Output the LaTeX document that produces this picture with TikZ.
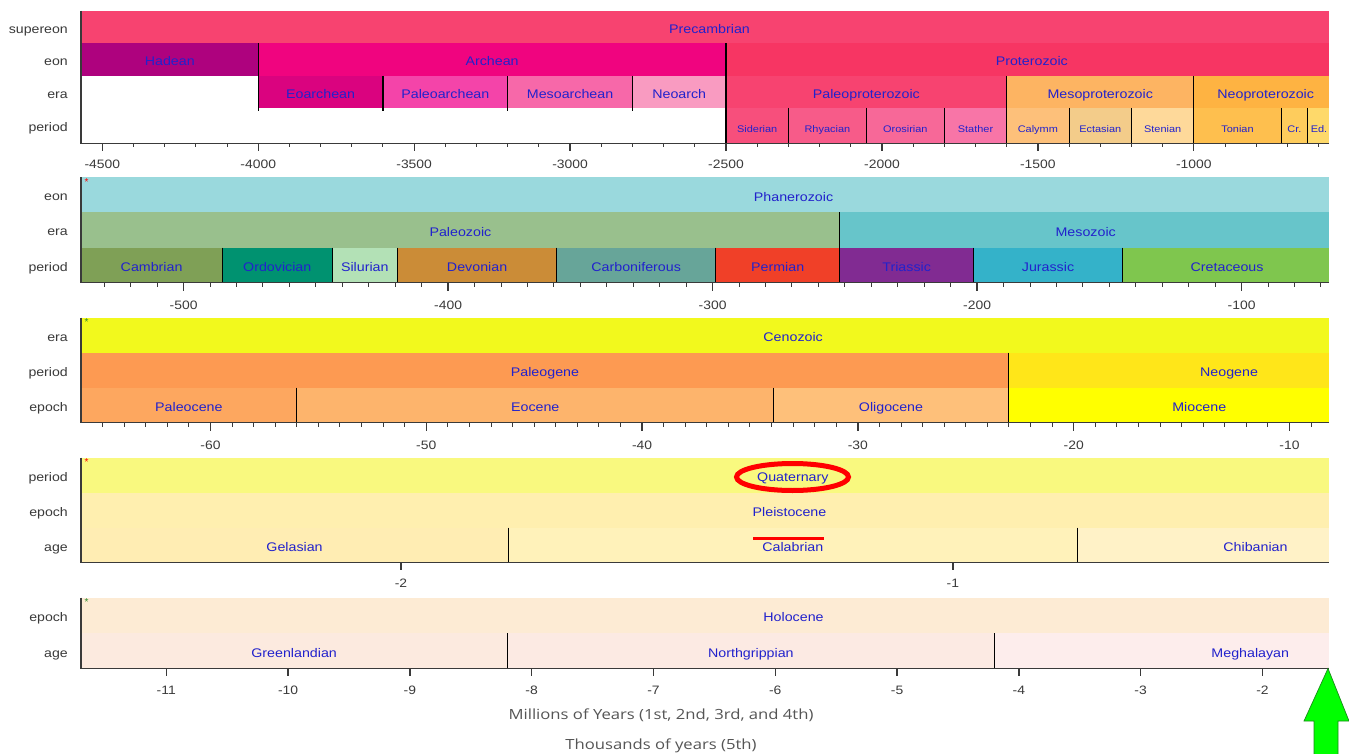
\documentclass[tikz,border=0pt]{standalone}
\usepackage{fontspec}
\setmainfont{Liberation Sans}
\newfontfamily\labfont[FakeStretch=1.14]{Liberation Sans}
\newfontfamily\titfont[FakeStretch=1.19]{Open Sans}
\definecolor{labblue}{HTML}{2222CC}
\definecolor{rowgray}{HTML}{3A3A3A}
\definecolor{axisgray}{HTML}{3A3A3A}
\definecolor{titgray}{HTML}{555555}
\definecolor{arrowgreen}{HTML}{00FF00}
\definecolor{arrowedge}{HTML}{1A8A1A}
\definecolor{astgreen}{HTML}{2E8B2E}
\definecolor{cPrecambrian}{HTML}{F74370}
\definecolor{cHadean}{HTML}{AE027E}
\definecolor{cArchean}{HTML}{F0047F}
\definecolor{cProterozoic}{HTML}{F73563}
\definecolor{cEoarchean}{HTML}{DA037F}
\definecolor{cPaleoarchean}{HTML}{F444A9}
\definecolor{cMesoarchean}{HTML}{F768A9}
\definecolor{cNeoarchean}{HTML}{F99BC1}
\definecolor{cPaleoproterozoic}{HTML}{F74370}
\definecolor{cMesoproterozoic}{HTML}{FDB462}
\definecolor{cNeoproterozoic}{HTML}{FEB342}
\definecolor{cSiderian}{HTML}{F74F7C}
\definecolor{cRhyacian}{HTML}{F75B89}
\definecolor{cOrosirian}{HTML}{F76898}
\definecolor{cStatherian}{HTML}{F875A7}
\definecolor{cCalymmian}{HTML}{FDC07A}
\definecolor{cEctasian}{HTML}{F3CC8A}
\definecolor{cStenian}{HTML}{FED99A}
\definecolor{cTonian}{HTML}{FEBF4E}
\definecolor{cCryogenian}{HTML}{FECC5C}
\definecolor{cEdiacaran}{HTML}{FED96A}
\definecolor{cPhanerozoic}{HTML}{9AD9DD}
\definecolor{cPaleozoic}{HTML}{99C08D}
\definecolor{cMesozoic}{HTML}{67C5CA}
\definecolor{cCambrian}{HTML}{7FA056}
\definecolor{cOrdovician}{HTML}{009270}
\definecolor{cSilurian}{HTML}{B3E1B6}
\definecolor{cDevonian}{HTML}{CB8C37}
\definecolor{cCarboniferous}{HTML}{67A599}
\definecolor{cPermian}{HTML}{F04028}
\definecolor{cTriassic}{HTML}{812B92}
\definecolor{cJurassic}{HTML}{34B2C9}
\definecolor{cCretaceous}{HTML}{7FC64E}
\definecolor{cCenozoic}{HTML}{F2F91D}
\definecolor{cPaleogene}{HTML}{FD9A52}
\definecolor{cNeogene}{HTML}{FFE619}
\definecolor{cPaleocene}{HTML}{FDA75F}
\definecolor{cEocene}{HTML}{FDB46C}
\definecolor{cOligocene}{HTML}{FEC07A}
\definecolor{cMiocene}{HTML}{FFFF00}
\definecolor{cQuaternary}{HTML}{F9F97F}
\definecolor{cPleistocene}{HTML}{FFEFAF}
\definecolor{cGelasian}{HTML}{FFEDB3}
\definecolor{cCalabrian}{HTML}{FFF2BA}
\definecolor{cChibanian}{HTML}{FFF2C7}
\definecolor{cHolocene}{HTML}{FDEBD4}
\definecolor{cGreenlandian}{HTML}{FCEADF}
\definecolor{cNorthgrippian}{HTML}{FCEAE3}
\definecolor{cMeghalayan}{HTML}{FDEDEC}
\newcommand\gbar[5]{\fill[#5] ({#1},#3) rectangle ({#2},#4);}
\newcommand\gsep[3]{\draw[sepline] ({#1},#2) -- ({#1},#3);}
\begin{document}
\begin{tikzpicture}[x=1pt,y=-1pt,
 declare function={p1(\x)=102.3+(\x+4500)*0.31186; p2(\x)=81+(\x+538.8)*2.645; p3(\x)=81+(\x+66)*21.58; p4(\x)=81+(\x+2.58)*551.8; p5(\x)=81+(\x+11.7)*121.8;},
 lab/.style={font=\labfont\fontsize{12.5}{13}\selectfont, text=labblue, inner sep=0pt, anchor=base},
 slab/.style={font=\labfont\fontsize{9.6}{10}\selectfont, text=labblue, inner sep=0pt, anchor=base},
 rowlab/.style={font=\labfont\fontsize{12.4}{13}\selectfont, text=rowgray, inner sep=0pt, anchor=base east},
 ticklab/.style={font=\labfont\fontsize{12.2}{13}\selectfont, text=axisgray, inner sep=0pt, anchor=base},
 titlab/.style={font=\titfont\fontsize{14}{15}\selectfont, text=titgray, inner sep=0pt, anchor=base},
 ast/.style={font=\fontsize{10}{10}\selectfont, inner sep=0pt, anchor=north},
 sepline/.style={black, line width=1.1pt},
 axisline/.style={axisgray, line width=1.6pt},
 minortick/.style={axisgray, line width=1pt},
 majortick/.style={axisgray, line width=1.3pt}
]
\useasboundingbox (0,0) rectangle (1349,754);
\fill[white] (0,0) rectangle (1349,754);

% ---------------- Panel 1 ----------------
\begin{scope}
\clip (81,11) rectangle (1329,143.5);
\gbar{81}{1329}{11}{43.5}{cPrecambrian}
\gbar{81}{p1(-4000)}{43.5}{76}{cHadean}
\gbar{p1(-4000)}{p1(-2500)}{43.5}{76}{cArchean}
\gbar{p1(-2500)}{1329}{43.5}{76}{cProterozoic}
\gbar{p1(-4000)}{p1(-3600)}{76}{108}{cEoarchean}
\gbar{p1(-3600)}{p1(-3200)}{76}{108}{cPaleoarchean}
\gbar{p1(-3200)}{p1(-2800)}{76}{108}{cMesoarchean}
\gbar{p1(-2800)}{p1(-2500)}{76}{108}{cNeoarchean}
\gbar{p1(-2500)}{p1(-1600)}{76}{108}{cPaleoproterozoic}
\gbar{p1(-1600)}{p1(-1000)}{76}{108}{cMesoproterozoic}
\gbar{p1(-1000)}{1329}{76}{108}{cNeoproterozoic}
\gbar{p1(-2500)}{p1(-2300)}{108}{143.5}{cSiderian}
\gbar{p1(-2300)}{p1(-2050)}{108}{143.5}{cRhyacian}
\gbar{p1(-2050)}{p1(-1800)}{108}{143.5}{cOrosirian}
\gbar{p1(-1800)}{p1(-1600)}{108}{143.5}{cStatherian}
\gbar{p1(-1600)}{p1(-1400)}{108}{143.5}{cCalymmian}
\gbar{p1(-1400)}{p1(-1200)}{108}{143.5}{cEctasian}
\gbar{p1(-1200)}{p1(-1000)}{108}{143.5}{cStenian}
\gbar{p1(-1000)}{p1(-720)}{108}{143.5}{cTonian}
\gbar{p1(-720)}{p1(-635)}{108}{143.5}{cCryogenian}
\gbar{p1(-635)}{1329}{108}{143.5}{cEdiacaran}
\end{scope}
\gsep{p1(-4000)}{43.5}{111}
\gsep{p1(-3600)}{76}{111}
\gsep{p1(-3200)}{76}{111}
\gsep{p1(-2800)}{76}{111}
\gsep{p1(-2500)}{43.5}{143.5}
\gsep{p1(-1600)}{76}{143.5}
\gsep{p1(-1000)}{76}{143.5}
\foreach \v in {-2300,-2050,-1800,-1400,-1200,-720,-635} {\gsep{p1(\v)}{108}{143.5}}
\foreach \v in {-4500,-4400,...,-600} {\draw[minortick] ({p1(\v)},143.5) -- ({p1(\v)},147);}
\foreach \v [count=\i] in {-4500,-4000,...,-1000} {\draw[majortick] ({p1(\v)},143.5) -- ({p1(\v)},151); \node[ticklab] (ta\i) at ({p1(\v)},168.5) {\v};}
\draw[axisline] (81,11) -- (81,143.5) -- (1329,143.5);
\node[rowlab] (r1a) at (68,33.3) {supereon};
\node[rowlab] (r1b) at (68,65.8) {eon};
\node[rowlab] (r1c) at (68,98.3) {era};
\node[rowlab] (r1d) at (68,131.8) {period};
\node[lab] (precambrian) at ({p1(-2553)},33.3) {Precambrian};
\node[lab] (hadean) at ({p1(-4283.5)},65.8) {Hadean};
\node[lab] (archean) at ({p1(-3250)},65.8) {Archean};
\node[lab] (proterozoic) at ({p1(-1519.4)},65.8) {Proterozoic};
\node[lab] (eoarchean) at ({p1(-3800)},98.5) {Eoarchean};
\node[lab] (paleoarchean) at ({p1(-3400)},98.5) {Paleoarchean};
\node[lab] (mesoarchean) at ({p1(-3000)},98.5) {Mesoarchean};
\node[lab] (neoarch) at ({p1(-2650)},98.5) {Neoarch};
\node[lab] (paleoproterozoic) at ({p1(-2050)},98.5) {Paleoproterozoic};
\node[lab] (mesoproterozoic) at ({p1(-1300)},98.5) {Mesoproterozoic};
\node[lab] (neoproterozoic) at ({p1(-769.4)},98.5) {Neoproterozoic};
\node[slab] (siderian) at ({p1(-2400)},132.5) {Siderian};
\node[slab] (rhyacian) at ({p1(-2175)},132.5) {Rhyacian};
\node[slab] (orosirian) at ({p1(-1925)},132.5) {Orosirian};
\node[slab] (stather) at ({p1(-1700)},132.5) {Stather};
\node[slab] (calymm) at ({p1(-1500)},132.5) {Calymm};
\node[slab] (ectasian) at ({p1(-1300)},132.5) {Ectasian};
\node[slab] (stenian) at ({p1(-1100)},132.5) {Stenian};
\node[slab] (tonian) at ({p1(-860)},132.5) {Tonian};
\node[slab] (cryo) at ({p1(-677.5)},132.5) {Cr.};
\node[slab] (edia) at (1319,132.5) {Ed.};

% ---------------- Panel 2 ----------------
\begin{scope}
\clip (81,177.5) rectangle (1329,282.5);
\gbar{81}{1329}{177.5}{212.5}{cPhanerozoic}
\gbar{81}{p2(-251.9)}{212.5}{247.5}{cPaleozoic}
\gbar{p2(-251.9)}{1329}{212.5}{247.5}{cMesozoic}
\gbar{81}{p2(-485.4)}{247.5}{282.5}{cCambrian}
\gbar{p2(-485.4)}{p2(-443.8)}{247.5}{282.5}{cOrdovician}
\gbar{p2(-443.8)}{p2(-419.2)}{247.5}{282.5}{cSilurian}
\gbar{p2(-419.2)}{p2(-358.9)}{247.5}{282.5}{cDevonian}
\gbar{p2(-358.9)}{p2(-298.9)}{247.5}{282.5}{cCarboniferous}
\gbar{p2(-298.9)}{p2(-251.9)}{247.5}{282.5}{cPermian}
\gbar{p2(-251.9)}{p2(-201.4)}{247.5}{282.5}{cTriassic}
\gbar{p2(-201.4)}{p2(-145)}{247.5}{282.5}{cJurassic}
\gbar{p2(-145)}{1329}{247.5}{282.5}{cCretaceous}
\end{scope}
\gsep{p2(-251.9)}{212.5}{282.5}
\foreach \v in {-485.4,-443.8,-419.2,-358.9,-298.9,-201.4,-145} {\gsep{p2(\v)}{247.5}{282.5}}
\foreach \v in {-530,-520,...,-70} {\draw[minortick] ({p2(\v)},282.5) -- ({p2(\v)},286.5);}
\foreach \v [count=\i] in {-500,-400,...,-100} {\draw[majortick] ({p2(\v)},282.5) -- ({p2(\v)},290.5); \node[ticklab] (tb\i) at ({p2(\v)},309.5) {\v};}
\draw[axisline] (81,177.5) -- (81,282.5) -- (1329,282.5);
\node[ast, text=red] (ast2) at (86.5,178) {*};
\node[rowlab] (r2a) at (68,201) {eon};
\node[rowlab] (r2b) at (68,236) {era};
\node[rowlab] (r2c) at (68,271) {period};
\node[lab] (phanerozoic) at ({p2(-269.4)},201.5) {Phanerozoic};
\node[lab] (paleozoic) at ({p2(-395.35)},236.5) {Paleozoic};
\node[lab] (mesozoic) at ({p2(-158.95)},236.5) {Mesozoic};
\node[lab] (cambrian) at ({p2(-512.1)},271.5) {Cambrian};
\node[lab] (ordovician) at ({p2(-464.6)},271.5) {Ordovician};
\node[lab] (silurian) at ({p2(-431.5)},271.5) {Silurian};
\node[lab] (devonian) at ({p2(-389.05)},271.5) {Devonian};
\node[lab] (carboniferous) at ({p2(-328.9)},271.5) {Carboniferous};
\node[lab] (permian) at ({p2(-275.4)},271.5) {Permian};
\node[lab] (triassic) at ({p2(-226.65)},271.5) {Triassic};
\node[lab] (jurassic) at ({p2(-173.2)},271.5) {Jurassic};
\node[lab] (cretaceous) at ({p2(-105.5)},271.5) {Cretaceous};

% ---------------- Panel 3 ----------------
\begin{scope}
\clip (81,317.5) rectangle (1329,422.5);
\gbar{81}{1329}{317.5}{352.5}{cCenozoic}
\gbar{81}{p3(-23.03)}{352.5}{387.5}{cPaleogene}
\gbar{p3(-23.03)}{1329}{352.5}{387.5}{cNeogene}
\gbar{81}{p3(-56)}{387.5}{422.5}{cPaleocene}
\gbar{p3(-56)}{p3(-33.9)}{387.5}{422.5}{cEocene}
\gbar{p3(-33.9)}{p3(-23.03)}{387.5}{422.5}{cOligocene}
\gbar{p3(-23.03)}{1329}{387.5}{422.5}{cMiocene}
\end{scope}
\gsep{p3(-23.03)}{352.5}{422.5}
\gsep{p3(-56)}{387.5}{422.5}
\gsep{p3(-33.9)}{387.5}{422.5}
\foreach \v in {-65,-64,...,-9} {\draw[minortick] ({p3(\v)},422.5) -- ({p3(\v)},426.5);}
\foreach \v [count=\i] in {-60,-50,...,-10} {\draw[majortick] ({p3(\v)},422.5) -- ({p3(\v)},430.5); \node[ticklab] (tc\i) at ({p3(\v)},449.5) {\v};}
\draw[axisline] (81,317.5) -- (81,422.5) -- (1329,422.5);
\node[ast, text=astgreen] (ast3) at (86.5,318) {*};
\node[rowlab] (r3a) at (68,341) {era};
\node[rowlab] (r3b) at (68,376) {period};
\node[rowlab] (r3c) at (68,411) {epoch};
\node[lab] (cenozoic) at ({p3(-33)},341.5) {Cenozoic};
\node[lab] (paleogene) at ({p3(-44.5)},376.5) {Paleogene};
\node[lab] (neogene) at ({p3(-12.8)},376.5) {Neogene};
\node[lab] (paleocene) at ({p3(-61)},411.5) {Paleocene};
\node[lab] (eocene) at ({p3(-44.95)},411.5) {Eocene};
\node[lab] (oligocene) at ({p3(-28.465)},411.5) {Oligocene};
\node[lab] (miocene) at ({p3(-14.18)},411.5) {Miocene};

% ---------------- Panel 4 ----------------
\begin{scope}
\clip (81,457.5) rectangle (1329,562.5);
\gbar{81}{1329}{457.5}{492.5}{cQuaternary}
\gbar{81}{1329}{492.5}{527.5}{cPleistocene}
\gbar{81}{p4(-1.806)}{527.5}{562.5}{cGelasian}
\gbar{p4(-1.806)}{p4(-0.774)}{527.5}{562.5}{cCalabrian}
\gbar{p4(-0.774)}{1329}{527.5}{562.5}{cChibanian}
\end{scope}
\gsep{p4(-1.806)}{527.5}{562.5}
\gsep{p4(-0.774)}{527.5}{562.5}
\foreach \v [count=\i] in {-2,-1} {\draw[majortick] ({p4(\v)},562.5) -- ({p4(\v)},569.5); \node[ticklab] (td\i) at ({p4(\v)},587.5) {\v};}
\draw[axisline] (81,457.5) -- (81,562.5) -- (1329,562.5);
\node[ast, text=red] (ast4) at (86.5,458) {*};
\node[rowlab] (r4a) at (68,481) {period};
\node[rowlab] (r4b) at (68,516) {epoch};
\node[rowlab] (r4c) at (68,551) {age};
\node[lab] (quaternary) at ({p4(-1.29)},481.5) {Quaternary};
\node[lab] (pleistocene) at ({p4(-1.296)},516.5) {Pleistocene};
\node[lab] (gelasian) at ({p4(-2.193)},551.5) {Gelasian};
\node[lab] (calabrian) at ({p4(-1.29)},551.5) {Calabrian};
\node[lab] (chibanian) at ({p4(-0.4515)},551.5) {Chibanian};

% ---------------- Panel 5 ----------------
\begin{scope}
\clip (81,597.5) rectangle (1329,668.5);
\gbar{81}{1329}{597.5}{633}{cHolocene}
\gbar{81}{p5(-8.2)}{633}{668.5}{cGreenlandian}
\gbar{p5(-8.2)}{p5(-4.2)}{633}{668.5}{cNorthgrippian}
\gbar{p5(-4.2)}{1329}{633}{668.5}{cMeghalayan}
\end{scope}
\gsep{p5(-8.2)}{633}{668.5}
\gsep{p5(-4.2)}{633}{668.5}
\foreach \v [count=\i] in {-11,-10,...,-2} {\draw[majortick] ({p5(\v)},668.5) -- ({p5(\v)},675.5); \node[ticklab] (te\i) at ({p5(\v)},694.5) {\v};}
\draw[axisline] (81,597.5) -- (81,668.5) -- (1329,668.5);
\node[ast, text=astgreen] (ast5) at (86.5,598) {*};
\node[rowlab] (r5a) at (68,621) {epoch};
\node[rowlab] (r5b) at (68,657) {age};
\node[lab] (holocene) at ({p5(-5.85)},621.5) {Holocene};
\node[lab] (greenlandian) at ({p5(-9.95)},657) {Greenlandian};
\node[lab] (northgrippian) at ({p5(-6.2)},657) {Northgrippian};
\node[lab] (meghalayan) at ({p5(-2.1)},657) {Meghalayan};

% ---------------- Titles ----------------
\node[titlab] (mtitle) at (661,719) {Millions of Years (1st, 2nd, 3rd, and 4th)};
\node[titlab] (ktitle) at (661,749.5) {Thousands of years (5th)};

% ---------------- Annotations ----------------
\draw[red, line width=5pt] (792.5,477) ellipse [x radius=56, y radius=13.5];
\draw[red, line width=3pt] (753,538) -- (824,538);
\fill[arrowgreen, draw=arrowedge, line width=0.7pt] (1328,668.5) -- (1349,721) -- (1338,721) -- (1338,760) -- (1314,760) -- (1314,721) -- (1304,721) -- cycle;
\end{tikzpicture}
\end{document}
